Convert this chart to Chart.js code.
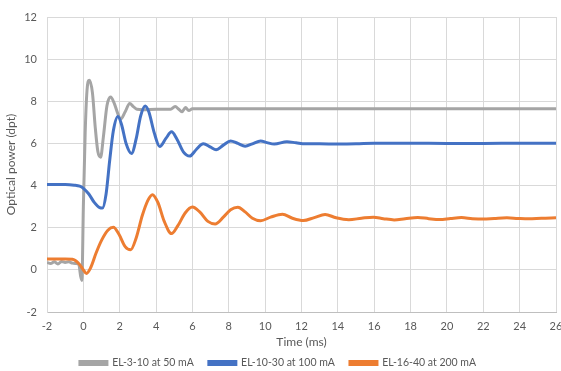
<!DOCTYPE html>
<html>
<head>
<meta charset="utf-8">
<script src="https://cdn.jsdelivr.net/npm/chart.js@4.4.0/dist/chart.umd.min.js"></script>
<style>
    html, body { margin: 0; padding: 0; background: #ffffff; }
</style>
</head>
<body>
<canvas id="chartOptical" width="561" height="371"></canvas>
<script>
// Series labels
const seriesNames = ['EL-3-10 at 50 mA', 'EL-10-30 at 100 mA', 'EL-16-40 at 200 mA'];

// EL-3-10 at 50 mA (gray)
const grayTime = [-2, -1.8, -1.6, -1.4, -1.2, -1.0, -0.8, -0.6, -0.4, -0.25, -0.15, -0.08, 0.0, 0.1, 0.2, 0.33,
    0.5, 0.65, 0.8, 0.95, 1.1, 1.3, 1.5, 1.7, 1.9, 2.05, 2.3, 2.55, 2.75, 2.95, 3.3, 4.0, 4.8, 5.05, 5.25,
    5.42, 5.62, 5.8, 6.0, 8, 10, 14, 18, 22, 26];
const grayPower = [0.35, 0.3, 0.38, 0.28, 0.4, 0.35, 0.38, 0.32, 0.3, 0.25, -0.3, -0.5, 3.0, 6.5, 8.5, 9.0,
    8.4, 6.8, 5.6, 5.35, 6.3, 7.8, 8.2, 7.9, 7.4, 7.15, 7.5, 7.9, 7.75, 7.62, 7.6, 7.62, 7.62, 7.75, 7.62,
    7.5, 7.7, 7.56, 7.65, 7.65, 7.65, 7.64, 7.64, 7.64, 7.64];

// EL-10-30 at 100 mA (blue)
const blueTime = [-2, -1, -0.5, -0.2, 0, 0.3, 0.6, 0.9, 1.05, 1.25, 1.45, 1.65, 1.9, 2.1, 2.35, 2.65, 2.9,
    3.15, 3.4, 3.6, 3.9, 4.2, 4.55, 4.85, 5.15, 5.5, 5.85, 6.2, 6.6, 7.0, 7.3, 7.7, 8.1, 8.5, 8.9, 9.3,
    9.75, 10.1, 10.5, 11.2, 11.7, 12.2, 13, 14, 15, 16, 18, 20, 22, 24, 26];
const bluePower = [4.05, 4.05, 4.02, 3.97, 3.87, 3.6, 3.2, 2.95, 2.93, 3.6, 5.2, 6.6, 7.28, 6.9, 6.0, 5.52, 6.2,
    7.3, 7.78, 7.5, 6.5, 5.85, 6.25, 6.55, 6.2, 5.6, 5.4, 5.7, 5.98, 5.82, 5.7, 5.92, 6.12, 6.0, 5.87, 5.98,
    6.12, 6.04, 5.97, 6.08, 6.03, 5.98, 5.98, 5.97, 5.98, 6.01, 6.01, 6.0, 6.0, 6.01, 6.01];

// EL-16-40 at 200 mA (orange)
const orangeTime = [-2, -1, -0.6, -0.4, -0.2, 0, 0.17, 0.4, 0.7, 1.0, 1.35, 1.65, 1.95, 2.3, 2.6, 2.9, 3.25,
    3.55, 3.8, 4.1, 4.45, 4.85, 5.2, 5.6, 6.0, 6.4, 6.85, 7.25, 7.7, 8.1, 8.5, 8.9, 9.3, 9.75, 10.3, 10.95,
    11.5, 12.1, 12.7, 13.3, 13.9, 14.6, 15.3, 15.95, 16.5, 17.1, 17.7, 18.4, 19.0, 19.6, 20.2, 20.8, 21.4,
    22.0, 22.6, 23.3, 23.9, 24.5, 25.2, 26];
const orangePower = [0.52, 0.52, 0.5, 0.42, 0.25, 0.0, -0.17, 0.1, 0.8, 1.4, 1.88, 2.02, 1.7, 1.1, 0.95, 1.5, 2.6,
    3.3, 3.57, 3.2, 2.3, 1.72, 2.1, 2.7, 2.98, 2.75, 2.3, 2.18, 2.5, 2.85, 2.97, 2.75, 2.45, 2.33, 2.5, 2.64,
    2.45, 2.34, 2.48, 2.63, 2.47, 2.38, 2.45, 2.5, 2.43, 2.37, 2.43, 2.49, 2.43, 2.39, 2.44, 2.48, 2.43,
    2.41, 2.44, 2.47, 2.44, 2.42, 2.45, 2.47];

const xTicksMin = -2, xTicksMax = 26, xStep = 2;
const yTicksMin = -2, yTicksMax = 12, yStep = 2;

function pontos(tempos, valores) {
    return tempos.map((t, i) => ({ x: t, y: valores[i] }));
}

const textColor = '#595959';
const gridColor = '#D9D9D9';
const fontFamily = 'Lato, "Liberation Sans", sans-serif';
const legendPadding = 15;

function linha(label, tempos, valores, cor, ordem) {
    return {
        label: label,
        data: pontos(tempos, valores),
        borderColor: cor,
        backgroundColor: cor,
        borderWidth: 3,
        pointRadius: 0,
        cubicInterpolationMode: 'monotone',
        fill: false,
        order: ordem
    };
}

// Legenda compacta: espaço largo entre itens, mas pouca altura
const legendaCompacta = {
    id: 'legendaCompacta',
    beforeLayout(chart) {
        const legend = chart.legend;
        if (legend && !legend._fitPatched) {
            const fitOriginal = legend.fit.bind(legend);
            legend.fit = function() {
                fitOriginal();
                this.height = 15;
            };
            legend._fitPatched = true;
        }
    },
    afterLayout(chart) {
        const legend = chart.legend;
        if (legend) {
            // centro dos itens em y = 364
            legend.top = 364 - legendPadding - 6.3;
        }
    }
};

const ctx = document.getElementById('chartOptical');

new Chart(ctx, {
    type: 'line',
    data: {
        datasets: [
            linha(seriesNames[0], grayTime, grayPower, '#A5A5A5', 3),
            linha(seriesNames[1], blueTime, bluePower, '#4472C4', 2),
            linha(seriesNames[2], orangeTime, orangePower, '#ED7D31', 1)
        ]
    },
    options: {
        responsive: false,
        animation: false,
        layout: {
            padding: { top: 17, right: 5, bottom: 2, left: 0 }
        },
        scales: {
            x: {
                type: 'linear',
                min: xTicksMin,
                max: xTicksMax,
                ticks: {
                    stepSize: xStep,
                    color: textColor,
                    font: { family: fontFamily, size: 11 },
                    padding: 8,
                    maxRotation: 0
                },
                grid: { color: gridColor, drawTicks: false },
                border: { color: '#BFBFBF' },
                title: {
                    display: true,
                    text: 'Time (ms)',
                    color: textColor,
                    font: { family: fontFamily, size: 12 },
                    padding: { top: 2, bottom: 5 }
                },
                afterFit: function(scale) {
                    scale.height = 42;
                    scale.paddingLeft = 0;
                    scale.paddingRight = 0;
                }
            },
            y: {
                min: yTicksMin,
                max: yTicksMax,
                ticks: {
                    stepSize: yStep,
                    color: textColor,
                    font: { family: fontFamily, size: 11 },
                    padding: 10
                },
                grid: { color: gridColor, drawTicks: false },
                border: { color: gridColor },
                title: {
                    display: true,
                    text: 'Optical power (dpt)',
                    color: textColor,
                    font: { family: fontFamily, size: 12 },
                    padding: { top: 4, bottom: 0 }
                },
                afterFit: function(scale) {
                    scale.width = 47;
                }
            }
        },
        plugins: {
            legend: {
                position: 'bottom',
                labels: {
                    boxWidth: 27,
                    boxHeight: 3,
                    padding: legendPadding,
                    color: textColor,
                    font: { family: fontFamily, size: 10.5 },
                    sort: (a, b) => a.datasetIndex - b.datasetIndex
                }
            },
            tooltip: { enabled: false }
        }
    },
    plugins: [legendaCompacta]
});
</script>
</body>
</html>
